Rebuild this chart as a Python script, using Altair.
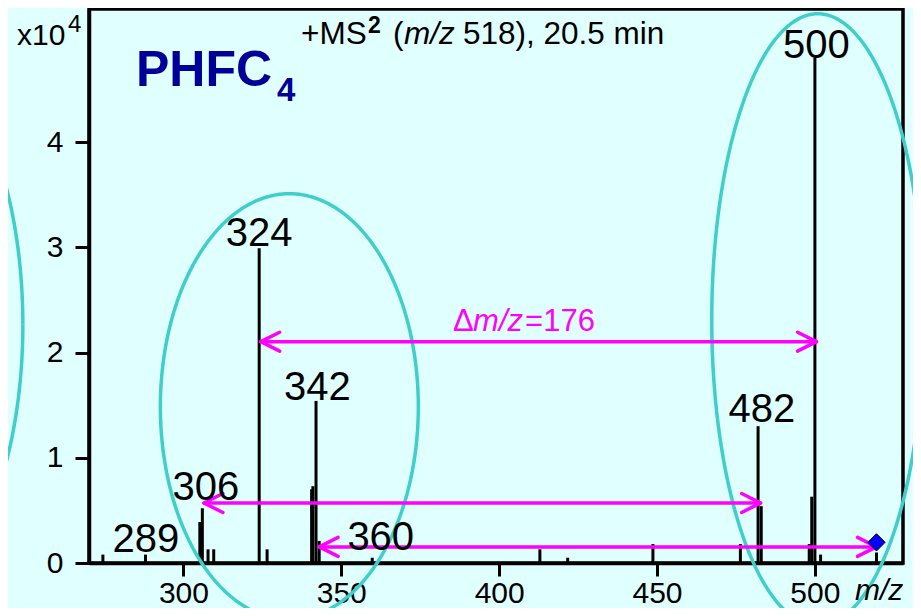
import altair as alt
import pandas as pd
import numpy as np

# ---- data (intensity in units of 10^4) ----
peak_mz = [274.5, 288.0, 305.2, 306.0, 307.8, 309.6, 324.0, 326.5, 340.6, 341.0,
           342.0, 343.0, 359.8, 412.9, 421.7, 448.7, 476.4, 482.0, 483.0, 498.2,
           499.0, 500.0, 501.8, 519.5]
peak_int = [0.08, 0.08, 0.39, 0.52, 0.13, 0.13, 2.99, 0.13, 0.70, 0.73,
            1.54, 0.21, 0.05, 0.13, 0.05, 0.18, 0.18, 1.30, 0.54, 0.18,
            0.63, 4.80, 0.08, 0.10]

label_text = ["289", "306", "324", "342", "360", "482", "500"]
label_mz = [288.1, 307.1, 324.0, 342.4, 362.5, 483.2, 500.5]
label_at = [0.107, 0.60, 3.01, 1.55, 0.126, 1.336, 4.80]

arrow_from = [324.5, 306.5, 343.0]
arrow_to = [500.5, 482.8, 519.5]
arrow_at = [2.103, 0.570, 0.153]

precursor_mz = [519.5]
precursor_int = [0.196]

ellipse_cx = [212.75, 333.55, 500.9]
ellipse_cy = [2.265, 1.485, 2.312]
ellipse_rx = [36.4, 40.85, 33.57]
ellipse_ry = [2.52, 2.024, 2.907]

x_ticks = [300, 350, 400, 450, 500]
y_ticks = [0, 1, 2, 3, 4]

# ---- tables ----
peaks = pd.DataFrame({"mz": peak_mz, "int": peak_int})
labels = pd.DataFrame({"mz": label_mz, "at": label_at, "label": label_text})
arrows = pd.DataFrame({"x0": arrow_from, "x1": arrow_to, "y": arrow_at})

HEAD_DX = 6.0   # arrow head length in m/z units
HEAD_DY = 0.09  # arrow head half-spread in intensity units
heads = []
for a, b, y in zip(arrow_from, arrow_to, arrow_at):
    for s in (1, -1):
        heads.append({"x": a, "y": y, "x2": a + HEAD_DX, "y2": y + s * HEAD_DY})
        heads.append({"x": b, "y": y, "x2": b - HEAD_DX, "y2": y + s * HEAD_DY})
heads = pd.DataFrame(heads)

t = np.linspace(0, 2 * np.pi, 241)
ell_rows = []
for i, (cx, cy, rx, ry) in enumerate(zip(ellipse_cx, ellipse_cy, ellipse_rx, ellipse_ry)):
    for k, tt in enumerate(t):
        ell_rows.append({"eid": i, "k": k, "mz": cx + rx * np.cos(tt), "int": cy + ry * np.sin(tt)})
ellipses = pd.DataFrame(ell_rows)

prec = pd.DataFrame({"mz": precursor_mz, "int": precursor_int})

FONT = "Liberation Sans"
BG = "#E0FFFF"
MAGENTA = "#FF00FF"
CYAN = "#3ECFCB"
NAVY = "#000099"

xscale = alt.Scale(domain=[270.1, 527.9], nice=False, zero=False)
yscale = alt.Scale(domain=[0, 5.264], nice=False, zero=False)

xaxis = alt.Axis(values=x_ticks, title=None, grid=False, labelFontSize=30, labelFont=FONT,
                 labelColor="black", tickColor="black", tickSize=13, tickWidth=3,
                 domainColor="black", domainWidth=3.5, labelPadding=2,
                 labelOverlap=False, labelFlush=False)
yaxis = alt.Axis(values=y_ticks, title=None, grid=False, labelFontSize=30, labelFont=FONT,
                 labelColor="black", tickColor="black", tickSize=14, tickWidth=3,
                 domainColor="black", domainWidth=3.5, labelPadding=12,
                 labelOverlap=False, labelFlush=False)

X = lambda f: alt.X(f, type="quantitative", scale=xscale, axis=xaxis)
Y = lambda f: alt.Y(f, type="quantitative", scale=yscale, axis=yaxis)

bars = alt.Chart(peaks).mark_rule(color="black", strokeWidth=3).encode(
    x=X("mz"), y=Y("int"), y2=alt.datum(0))

ell_layer = alt.Chart(ellipses).mark_line(color=CYAN, strokeWidth=3.5).encode(
    x=X("mz"), y=Y("int"), detail="eid:N", order="k:Q")

shafts = alt.Chart(arrows).mark_rule(color=MAGENTA, strokeWidth=3.5).encode(
    x=X("x0"), x2="x1", y=Y("y"))

head_layer = alt.Chart(heads).mark_rule(color=MAGENTA, strokeWidth=3.5, strokeCap="round").encode(
    x=X("x"), x2="x2", y=Y("y"), y2="y2")

prec_layer = alt.Chart(prec).mark_point(shape="diamond", filled=True, fill="#0000FF",
                                        stroke="black", strokeWidth=1, size=300, opacity=1).encode(
    x=X("mz"), y=Y("int"))

peak_labels = alt.Chart(labels).mark_text(fontSize=40, font=FONT, color="black",
                                          align="center", baseline="alphabetic").encode(
    x=X("mz"), y=Y("at"), text="label:N")

# Delta m/z annotation, anchored in data space
delta_anchor = pd.DataFrame({"mz": [385.4], "int": [2.20]})
def delta_part(txt, dx, italic=False):
    return alt.Chart(delta_anchor).mark_text(
        text=txt, fontSize=31, font=FONT, color=MAGENTA, align="left",
        baseline="alphabetic", dx=dx, fontStyle="italic" if italic else "normal").encode(
        x=X("mz"), y=Y("int"))

delta_layers = [delta_part("Δ", 0), delta_part("m/z", 20, True), delta_part("=176", 72)]

# fixed text (title, compound name, axis multiplier, axis unit) in plot-area pixels
def txt(s, x, y, size, weight="normal", style="normal", color="black"):
    return alt.Chart(alt.Data(values=[{}])).mark_text(
        text=s, fontSize=size, font=FONT, fontWeight=weight, fontStyle=style,
        color=color, align="left", baseline="alphabetic").encode(
        x=alt.value(x), y=alt.value(y))

fixed = [
    txt("+MS", 212, 35, 31.5),
    txt("2", 279, 24, 23, weight="bold"),
    txt("(", 304, 35, 31.5),
    txt("m/z", 315, 35, 31.5, style="italic"),
    txt("518), 20.5 min", 374, 35, 31.5),
    txt("PHFC", 47, 77, 50, weight="bold", color=NAVY),
    txt("4", 188, 92, 33, weight="bold", color=NAVY),
    txt("x10", -72, 36, 30),
    txt("4", -21, 23, 24),
    txt("m/z", 766, 591, 30, style="italic"),
]

chart = alt.layer(
    bars, ell_layer, shafts, head_layer, prec_layer, peak_labels, *delta_layers, *fixed
).properties(
    width=814, height=554,
    autosize=alt.AutoSizeParams(type="none"),
    padding={"left": 81, "top": 1, "right": 10, "bottom": 45},
    background=BG,
).configure_view(stroke="black", strokeWidth=3.5, fill=BG)

chart.save("out.html", embed_options={"renderer": "svg", "actions": False})
